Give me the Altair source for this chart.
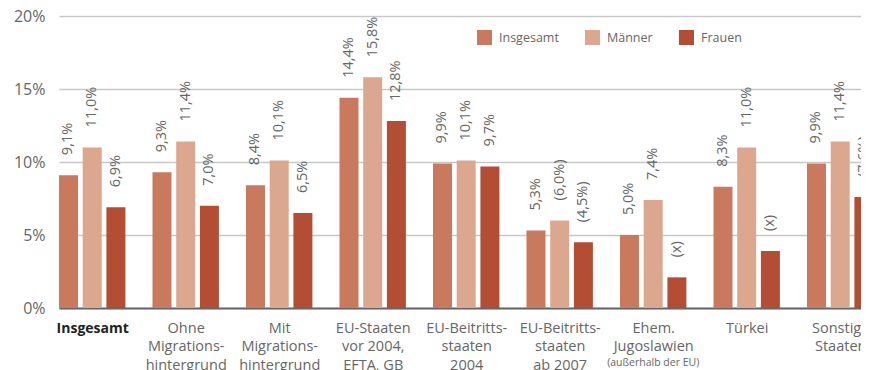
import altair as alt
import pandas as pd

categories = [
    "Insgesamt",
    "Ohne Migrations- hintergrund",
    "Mit Migrations- hintergrund",
    "EU-Staaten vor 2004, EFTA, GB",
    "EU-Beitritts- staaten 2004",
    "EU-Beitritts- staaten ab 2007",
    "Ehem. Jugoslawien",
    "Türkei",
    "Sonstige Staaten",
]
label_lines = [
    ["Insgesamt"],
    ["Ohne", "Migrations-", "hintergrund"],
    ["Mit", "Migrations-", "hintergrund"],
    ["EU-Staaten", "vor 2004,", "EFTA, GB"],
    ["EU-Beitritts-", "staaten", "2004"],
    ["EU-Beitritts-", "staaten", "ab 2007"],
    ["Ehem.", "Jugoslawien"],
    ["Türkei"],
    ["Sonstige", "Staaten"],
]
series = ["Insgesamt", "Männer", "Frauen"]
insgesamt = [9.1, 9.3, 8.4, 14.4, 9.9, 5.3, 5.0, 8.3, 9.9]
maenner = [11.0, 11.4, 10.1, 15.8, 10.1, 6.0, 7.4, 11.0, 11.4]
frauen = [6.9, 7.0, 6.5, 12.8, 9.7, 4.5, 2.1, 3.9, 7.6]
lab_insgesamt = ["9,1%", "9,3%", "8,4%", "14,4%", "9,9%", "5,3%", "5,0%", "8,3%", "9,9%"]
lab_maenner = ["11,0%", "11,4%", "10,1%", "15,8%", "10,1%", "(6,0%)", "7,4%", "11,0%", "11,4%"]
lab_frauen = ["6,9%", "7,0%", "6,5%", "12,8%", "9,7%", "(4,5%)", "(x)", "(x)", "(7,6%)"]
colors = ["#c97a5e", "#dca78f", "#b34e34"]

# layout: group index + offset of the bar within its group (in group units)
BAR_OFFSET = 0.2535
rows = []
for i, c in enumerate(categories):
    for j, (s, vals, labs) in enumerate(zip(series, [insgesamt, maenner, frauen],
                                            [lab_insgesamt, lab_maenner, lab_frauen])):
        rows.append({"cat": c, "idx": i, "pos": i + (j - 1) * BAR_OFFSET,
                     "serie": s, "value": vals[i], "label": labs[i]})
df = pd.DataFrame(rows)

FONT = "Open Sans"
GRAY = "#666666"

label_expr = "[" + ",".join(
    "[" + ",".join('"%s"' % x for x in l) + "]" for l in label_lines
) + "][datum.value]"

X_DOMAIN = [-0.3551, 8.2225]

x = alt.X(
    "pos:Q",
    scale=alt.Scale(domain=X_DOMAIN, nice=False, zero=False, padding=0),
    axis=alt.Axis(
        title=None,
        values=list(range(len(categories))),
        labelAngle=0,
        labelExpr=label_expr,
        labelFont=FONT,
        labelFontSize=alt.expr("datum.value == 0 ? 14 : 14.5"),
        labelLineHeight=18.5,
        labelColor=alt.expr("datum.value == 0 ? '#222222' : '#666666'"),
        labelFontWeight=alt.expr("datum.value == 0 ? 'bold' : 'normal'"),
        labelPadding=13,
        labelBaseline="top",
        labelAlign="center",
        labelLimit=200,
        labelOverlap=False,
        labelFlush=False,
        labelBound=False,
        domainColor="#666666",
        domainWidth=2,
        tickSize=0,
        grid=False,
    ),
)
y = alt.Y(
    "value:Q",
    scale=alt.Scale(domain=[0, 20], padding=0),
    axis=alt.Axis(
        title=None,
        values=[0, 5, 10, 15, 20],
        labelExpr="datum.value + '%'",
        labelFont=FONT,
        labelFontSize=16,
        labelColor=GRAY,
        labelPadding=14,
        domain=False,
        ticks=False,
        gridColor="#c8c8c8",
        gridWidth=1.5,
    ),
)
color = alt.Color(
    "serie:N",
    sort=series,
    scale=alt.Scale(domain=series, range=colors),
    legend=alt.Legend(
        title=None,
        orient="none",
        legendX=418,
        legendY=14,
        direction="horizontal",
        symbolType="square",
        symbolSize=225,
        symbolStrokeWidth=0,
        symbolOpacity=1,
        labelFont=FONT,
        labelFontSize=12.5,
        labelColor=GRAY,
        labelOffset=7,
        columnPadding=26,
    ),
)

base = alt.Chart(df).encode(x=x)
bars = base.mark_bar(size=19, opacity=1).encode(y=y, color=color)
texts = base.mark_text(
    angle=270, align="left", baseline="middle", dx=20, font=FONT, fontSize=14.5, color=GRAY
).encode(y=alt.Y("value:Q"), text="label:N")

sub_df = pd.DataFrame({"pos": [6], "t": ["(außerhalb der EU)"], "value": [0]})
sub = alt.Chart(sub_df).mark_text(
    font=FONT, fontSize=10.5, color=GRAY, baseline="middle", dy=55
).encode(x=alt.X("pos:Q"), y=alt.Y("value:Q"), text="t:N")

chart = (
    alt.layer(bars, texts, sub)
    .properties(
        width=802,
        height=292,
        autosize=alt.AutoSizeParams(type="none"),
        padding={"left": 51, "top": 8, "right": 0, "bottom": 62},
    )
    .configure_view(stroke=None)
)

chart.save("out.html", embed_options={"renderer": "svg", "actions": False})
